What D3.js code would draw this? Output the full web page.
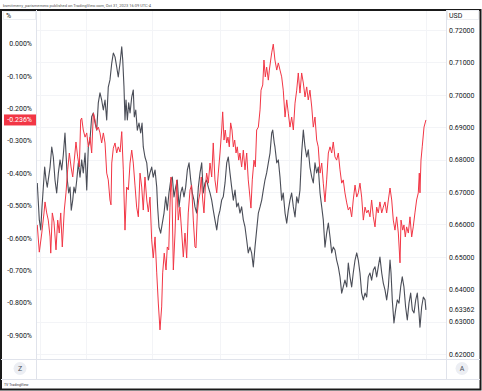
<!DOCTYPE html>
<html>
<head>
<meta charset="utf-8">
<script src="https://cdn.jsdelivr.net/npm/d3@7"></script>
<style>
  body { margin: 0; background: #fff; }
  svg { display: block; font-family: Roboto, "Noto Sans", sans-serif; }
</style>
</head>
<body>
<svg id="chart"></svg>
<script>
var W = 482, H = 391
var plot = { left: 37, right: 446, top: 11, bottom: 359 }

// red series: % change, left scale (days from 1 Jan 2023)
var redDays = [-43.0,-41.2,-39.0,-37.0,-36.1,-34.6,-33.2,-31.6,-31.0,-29.6,-28.1,-26.3,-24.8,-23.4,-22.1,-20.7,-18.9,-17.4,-15.9,-14.4,-12.9,-11.4,-10.0,-8.5,-7.0,-5.5,-4.3,-3.4,-2.0,-0.4,1.1,2.5,4.0,5.5,7.0,8.5,10.0,11.4,12.9,14.4,15.9,17.4,18.9,20.3,21.8,22.7,23.4,24.8,26.3,27.8,29.2,30.8,32.3,33.7,35.2,36.7,38.2,39.7,41.2,42.6,44.1,45.6,47.1,48.6,50.1,51.5,53.0,54.6,56.0,57.5,59.0,60.4,62.0,63.5,64.9,66.4,67.9,68.8,70.2,71.8,72.9,74.2,75.3,76.2,77.1,78.3,79.8,81.3,82.7,84.2,85.8,87.2,88.7,90.2,91.6,93.2,94.6,96.1,97.6,98.5,99.7,100.9,102.1,103.2,104.5,105.6,106.8,108.0,109.5,111.0,112.5,113.9,115.4,117.0,118.4,119.9,121.4,122.3,123.5,124.6,125.9,127.0,128.2,129.4,130.6,131.8,133.0,134.2,135.3,136.6,137.7,139.2,140.7,142.2,143.7,145.1,146.6,147.5,148.7,150.2,151.4,152.6,154.1,155.6,156.5,158.0,159.1,160.3,161.5,163.0,163.9,165.1,166.0,167.4,168.9,170.5,171.9,173.4,174.9,176.3,177.9,179.4,180.8,182.3,183.8,185.3,186.8,188.3,189.7,191.2,192.7,194.2,195.7,197.2,198.6,200.1,201.7,203.1,204.6,206.1,207.5,209.1,210.6,212.0,213.5,215.0,216.5,218.0,219.5,220.9,222.4,223.9,225.4,226.9,228.4,229.8,231.3,232.9,234.3,235.8,237.3,238.7,240.3,241.8,243.2,244.7,246.2,247.7,249.2,250.7,252.1,253.6,255.1,256.6,258.1,259.6,261.0,262.5,264.1,265.5,267.0,268.5,270.0,271.5,273.0,274.4,275.9,277.4,278.9,280.4,281.3,282.8,283.9,285.1,286.3,287.8,289.3,290.8,292.2,293.7,295.2,296.7,297.6,298.2,299.1,300.2,301.8,303.5]
var redPct = [-0.560,-0.644,-0.585,-0.523,-0.489,-0.523,-0.545,-0.597,-0.647,-0.523,-0.551,-0.637,-0.545,-0.585,-0.523,-0.628,-0.514,-0.461,-0.390,-0.338,-0.381,-0.412,-0.360,-0.304,-0.350,-0.381,-0.236,-0.230,-0.267,-0.289,-0.276,-0.319,-0.289,-0.338,-0.215,-0.236,-0.267,-0.258,-0.276,-0.307,-0.276,-0.307,-0.400,-0.421,-0.483,-0.498,-0.369,-0.323,-0.307,-0.338,-0.319,-0.335,-0.272,-0.390,-0.576,-0.443,-0.452,-0.369,-0.329,-0.369,-0.437,-0.505,-0.535,-0.400,-0.443,-0.514,-0.412,-0.483,-0.520,-0.474,-0.606,-0.662,-0.597,-0.708,-0.801,-0.884,-0.813,-0.708,-0.647,-0.699,-0.628,-0.637,-0.505,-0.412,-0.461,-0.699,-0.585,-0.421,-0.545,-0.505,-0.585,-0.659,-0.585,-0.662,-0.523,-0.452,-0.437,-0.545,-0.628,-0.631,-0.523,-0.483,-0.461,-0.412,-0.483,-0.523,-0.443,-0.400,-0.431,-0.369,-0.412,-0.307,-0.421,-0.461,-0.400,-0.338,-0.267,-0.211,-0.298,-0.267,-0.307,-0.289,-0.319,-0.245,-0.267,-0.319,-0.298,-0.338,-0.319,-0.360,-0.338,-0.381,-0.329,-0.390,-0.338,-0.421,-0.474,-0.508,-0.421,-0.360,-0.381,-0.267,-0.258,-0.205,-0.144,-0.128,-0.051,-0.103,-0.073,-0.113,-0.082,-0.051,-0.029,-0.002,-0.051,-0.082,-0.060,-0.082,-0.103,-0.144,-0.227,-0.174,-0.215,-0.258,-0.227,-0.267,-0.184,-0.144,-0.091,-0.153,-0.091,-0.122,-0.165,-0.134,-0.174,-0.144,-0.196,-0.258,-0.227,-0.298,-0.319,-0.400,-0.369,-0.431,-0.489,-0.421,-0.338,-0.319,-0.338,-0.304,-0.350,-0.360,-0.338,-0.390,-0.431,-0.421,-0.461,-0.492,-0.514,-0.505,-0.535,-0.483,-0.437,-0.474,-0.461,-0.431,-0.474,-0.545,-0.505,-0.523,-0.514,-0.535,-0.483,-0.535,-0.566,-0.505,-0.523,-0.489,-0.523,-0.505,-0.489,-0.523,-0.483,-0.446,-0.483,-0.545,-0.576,-0.535,-0.585,-0.677,-0.545,-0.576,-0.560,-0.597,-0.566,-0.585,-0.535,-0.597,-0.566,-0.523,-0.483,-0.461,-0.400,-0.461,-0.360,-0.319,-0.258,-0.236]

// black series: USD price, right scale
var usdDays = [-43.0,-41.2,-39.9,-38.8,-37.6,-36.4,-35.2,-34.1,-31.6,-30.1,-28.7,-27.2,-25.7,-24.2,-22.7,-21.2,-19.8,-18.3,-17.4,-16.2,-15.0,-13.8,-12.7,-11.4,-10.3,-9.1,-7.8,-6.4,-4.9,-3.4,-2.0,-0.4,1.1,2.5,4.0,5.5,7.0,8.5,10.0,11.4,12.9,14.4,15.9,17.4,18.9,20.3,21.8,23.4,24.8,26.3,27.8,29.2,30.8,32.3,33.2,34.3,35.2,36.1,37.3,38.5,39.7,41.2,42.6,43.5,44.8,46.2,47.7,49.2,50.4,51.5,53.0,54.6,56.0,57.5,59.0,60.4,62.0,63.5,64.3,65.5,67.0,68.5,70.0,71.5,72.9,74.4,76.0,77.4,78.9,80.4,81.8,83.4,84.9,86.3,87.8,89.3,90.8,92.3,93.8,95.2,96.7,97.6,99.1,100.6,102.1,103.6,105.0,106.5,108.0,109.5,111.0,112.5,113.9,115.4,117.0,118.4,119.9,121.4,122.8,124.4,125.9,127.3,128.8,130.3,131.8,133.3,134.8,136.2,137.7,139.2,140.7,142.2,143.7,145.1,146.6,148.1,149.6,151.1,152.6,154.1,155.6,157.1,158.5,160.0,161.5,163.0,164.5,166.0,166.9,168.3,168.9,170.5,171.9,173.4,174.9,176.3,177.9,179.4,180.8,182.3,183.8,185.3,186.8,188.3,189.7,191.2,192.7,194.2,195.7,197.2,198.6,200.1,201.7,203.1,204.6,206.1,207.5,209.1,210.6,212.0,213.5,215.0,216.5,218.0,219.5,220.9,222.4,223.9,225.4,226.9,228.4,229.8,231.3,232.9,234.3,235.8,237.3,238.7,240.3,241.8,243.2,244.7,246.2,247.7,249.2,250.7,252.1,253.6,255.1,256.6,258.1,259.6,261.0,262.5,264.1,265.5,267.0,268.5,270.0,271.5,272.4,273.5,275.0,276.5,278.0,279.5,281.0,282.4,283.9,285.4,286.9,288.4,289.9,291.4,292.9,294.4,295.8,297.3,298.2,299.7,301.2,302.7,303.5]
var usdPrice = [0.6728,0.6614,0.6583,0.6654,0.6715,0.6777,0.6737,0.6715,0.6777,0.6839,0.6808,0.6737,0.6697,0.6759,0.6799,0.6768,0.6814,0.6882,0.6820,0.6737,0.6697,0.6715,0.6644,0.6675,0.6715,0.6697,0.6737,0.6790,0.6746,0.6799,0.6759,0.6820,0.6706,0.6839,0.6861,0.6932,0.6944,0.6913,0.6891,0.6975,0.7006,0.6984,0.6953,0.6984,0.6922,0.7024,0.7046,0.7098,0.7129,0.7117,0.7086,0.7055,0.7098,0.7148,0.7107,0.7024,0.6922,0.6984,0.6922,0.6975,0.6944,0.6993,0.7015,0.6932,0.6953,0.6891,0.6913,0.6882,0.6913,0.6839,0.6808,0.6790,0.6737,0.6759,0.6777,0.6746,0.6768,0.6715,0.6654,0.6592,0.6573,0.6604,0.6635,0.6685,0.6644,0.6697,0.6737,0.6746,0.6685,0.6715,0.6737,0.6654,0.6697,0.6715,0.6685,0.6715,0.6768,0.6790,0.6737,0.6697,0.6675,0.6654,0.6635,0.6715,0.6759,0.6790,0.6697,0.6728,0.6737,0.6715,0.6697,0.6675,0.6644,0.6614,0.6583,0.6623,0.6644,0.6675,0.6685,0.6728,0.6790,0.6808,0.6759,0.6715,0.6675,0.6706,0.6654,0.6666,0.6635,0.6654,0.6614,0.6592,0.6552,0.6512,0.6530,0.6512,0.6469,0.6530,0.6583,0.6635,0.6654,0.6675,0.6706,0.6737,0.6759,0.6790,0.6820,0.6882,0.6891,0.6851,0.6839,0.6790,0.6799,0.6746,0.6675,0.6697,0.6635,0.6604,0.6644,0.6675,0.6697,0.6654,0.6623,0.6685,0.6666,0.6706,0.6820,0.6891,0.6839,0.6808,0.6830,0.6777,0.6746,0.6728,0.6790,0.6759,0.6777,0.6697,0.6654,0.6614,0.6530,0.6573,0.6604,0.6561,0.6512,0.6530,0.6521,0.6490,0.6469,0.6438,0.6388,0.6407,0.6428,0.6407,0.6481,0.6438,0.6407,0.6450,0.6490,0.6512,0.6490,0.6450,0.6388,0.6367,0.6388,0.6376,0.6438,0.6450,0.6428,0.6459,0.6469,0.6438,0.6469,0.6499,0.6450,0.6419,0.6398,0.6367,0.6407,0.6490,0.6450,0.6367,0.6296,0.6336,0.6367,0.6357,0.6407,0.6438,0.6407,0.6345,0.6305,0.6357,0.6388,0.6336,0.6327,0.6367,0.6388,0.6327,0.6283,0.6345,0.6376,0.6367,0.63362]

var pctTicks = [0, -0.1, -0.2, -0.3, -0.4, -0.5, -0.6, -0.7, -0.8, -0.9]
var usdTicks = [0.72, 0.71, 0.70, 0.69, 0.68, 0.67, 0.66, 0.65, 0.64, 0.63, 0.62]
var timeTicks = ["2022-11-21", "2023-01-01", "2023-03-01", "2023-05-01", "2023-07-01", "2023-09-01", "2023-11-01"]
var timeLabels = ["21", "2023", "Mar", "May", "Jul", "Sep", "Nov"]
var lastPct = -0.236, lastUsd = 0.63362

var base = new Date(2023, 0, 1)
var toDate = function(d) { return new Date(base.getTime() + d * 864e5) }
var parseDay = d3.timeParse("%Y-%m-%d")

var x = d3.scaleTime()
  .domain([toDate(-43.25), toDate(321.4)])
  .range([plot.left, plot.right])
var yPct = d3.scaleLinear().domain([-0.9, 0]).range([335.1, 43.5])
var yUsd = d3.scaleLinear().domain([0.62, 0.72]).range([354, 30])

var svg = d3.select("#chart").attr("width", W).attr("height", H)
var ink = "#131722", faint = "#e0e3eb", grid = "#f3f4f7"

svg.append("rect").attr("width", W).attr("height", H).attr("fill", "#fff")

// header
svg.append("text").attr("x", 3).attr("y", 6.5)
  .style("font-size", "4px").attr("fill", "#555")
  .text("ksmitmerry_parismemero published on TradingView.com, Oct 31, 2023 16:09 UTC-4")

// frame
svg.append("rect").attr("x", 1).attr("y", 10).attr("width", W - 2.5).attr("height", H - 11.5)
  .attr("fill", "#fff").attr("stroke", "#1a1a1a").attr("stroke-width", 2)

var defs = svg.append("defs")
defs.append("clipPath").attr("id", "plotClip").append("rect")
  .attr("x", plot.left).attr("y", plot.top).attr("width", plot.right - plot.left).attr("height", plot.bottom - plot.top)
defs.append("clipPath").attr("id", "timeClip").append("rect")
  .attr("x", plot.left).attr("y", plot.bottom).attr("width", plot.right - plot.left).attr("height", 20)

// grid
var g = svg.append("g")
g.selectAll(".hg").data(usdTicks).enter().append("line")
  .attr("x1", plot.left).attr("x2", plot.right)
  .attr("y1", d => Math.round(yUsd(d)) + 0.5).attr("y2", d => Math.round(yUsd(d)) + 0.5)
  .attr("stroke", grid)
g.selectAll(".vg").data(timeTicks).enter().append("line")
  .attr("x1", d => Math.round(x(parseDay(d))) + 0.5).attr("x2", d => Math.round(x(parseDay(d))) + 0.5)
  .attr("y1", plot.top).attr("y2", plot.bottom)
  .attr("stroke", grid)

// panel separators
svg.append("line").attr("x1", plot.left - 0.5).attr("x2", plot.left - 0.5).attr("y1", 10).attr("y2", 380).attr("stroke", faint)
svg.append("line").attr("x1", plot.right + 0.5).attr("x2", plot.right + 0.5).attr("y1", 10).attr("y2", 380).attr("stroke", faint)
svg.append("line").attr("x1", 1).attr("x2", W - 2).attr("y1", plot.bottom + 0.5).attr("y2", plot.bottom + 0.5).attr("stroke", faint)
svg.append("line").attr("x1", 1).attr("x2", W - 2).attr("y1", 379.5).attr("y2", 379.5).attr("stroke", faint)

// lines
var lines = svg.append("g").attr("clip-path", "url(#plotClip)")
var usdData = usdDays.map((d, i) => ({ date: toDate(d), v: usdPrice[i] }))
var redData = redDays.map((d, i) => ({ date: toDate(d), v: redPct[i] }))

lines.append("path").datum(usdData)
  .attr("fill", "none").attr("stroke", "#2a2e39").attr("stroke-opacity", 0.85)
  .attr("stroke-width", 1.1).attr("stroke-linejoin", "round")
  .attr("d", d3.line().x(d => x(d.date)).y(d => yUsd(d.v)))
lines.append("path").datum(redData)
  .attr("fill", "none").attr("stroke", "#f23645").attr("stroke-width", 1).attr("stroke-linejoin", "round")
  .attr("d", d3.line().x(d => x(d.date)).y(d => yPct(d.v)))

// left axis
var fmtPct = d => (d < 0 ? "-" : "") + Math.abs(d).toFixed(3) + "%"
var leftAxis = svg.append("g").attr("transform", "translate(32,0)")
  .call(d3.axisLeft(yPct).tickValues(pctTicks).tickSize(0).tickPadding(0).tickFormat(fmtPct))
leftAxis.select(".domain").remove()
leftAxis.selectAll("text").style("font-size", "7px").style("font-family", "Roboto").attr("fill", ink)

// right axis
var rightAxis = svg.append("g").attr("transform", "translate(449,0)")
  .call(d3.axisRight(yUsd).tickValues(usdTicks).tickSize(0).tickPadding(0).tickFormat(d3.format(".5f")))
rightAxis.select(".domain").remove()
rightAxis.selectAll("text").style("font-size", "7px").style("font-family", "Roboto").attr("fill", ink)

// last value tags
svg.append("rect").attr("x", 4).attr("y", yPct(lastPct) - 5.5).attr("width", 32).attr("height", 11).attr("fill", "#f23645")
svg.append("text").attr("x", 32).attr("y", yPct(lastPct)).attr("dy", "0.35em")
  .attr("text-anchor", "end").style("font-size", "7px").attr("fill", "#fff").text(fmtPct(lastPct))
svg.append("rect").attr("x", 447).attr("y", yUsd(lastUsd) - 5).attr("width", 31).attr("height", 10).attr("fill", "#fff")
svg.append("text").attr("x", 449).attr("y", yUsd(lastUsd)).attr("dy", "0.35em")
  .style("font-size", "7px").attr("fill", ink).text(d3.format(".5f")(lastUsd))

// unit labels
svg.append("rect").attr("x", 3.5).attr("y", 11.5).attr("width", 32).attr("height", 8).attr("fill", "#fff").attr("stroke", "#eceef2")
svg.append("text").attr("x", 6).attr("y", 17.5).style("font-size", "7px").attr("fill", ink).text("%")
svg.append("rect").attr("x", 447.5).attr("y", 10.5).attr("width", 31).attr("height", 9).attr("fill", "#fff").attr("stroke", "#eceef2")
svg.append("text").attr("x", 449).attr("y", 17.5).style("font-size", "7px").attr("fill", ink).text("USD")

// time axis
var xAxis = svg.append("g").attr("clip-path", "url(#timeClip)")
  .attr("transform", "translate(0," + plot.bottom + ")")
  .call(d3.axisBottom(x).tickValues(timeTicks.map(parseDay)).tickSize(0).tickPadding(6)
    .tickFormat((d, i) => timeLabels[i]))
xAxis.select(".domain").remove()
xAxis.selectAll("text").style("font-size", "7px").style("font-family", "Roboto").attr("fill", ink)
  .style("font-weight", (d, i) => timeLabels[i] === "2023" ? "bold" : "normal")

// corner buttons
;[["Z", 20], ["A", 462]].forEach(function(b) {
  svg.append("circle").attr("cx", b[1]).attr("cy", 368.5).attr("r", 6.5).attr("fill", "#eceef3")
  svg.append("text").attr("x", b[1]).attr("y", 368.5).attr("dy", "0.35em").attr("text-anchor", "middle")
    .style("font-size", "7px").attr("fill", "#4a4e5a").text(b[0])
})

// footer logo
svg.append("text").attr("x", 4).attr("y", 385.5).style("font-size", "3.5px").attr("fill", "#333").text("TV TradingView")
</script>
</body>
</html>
